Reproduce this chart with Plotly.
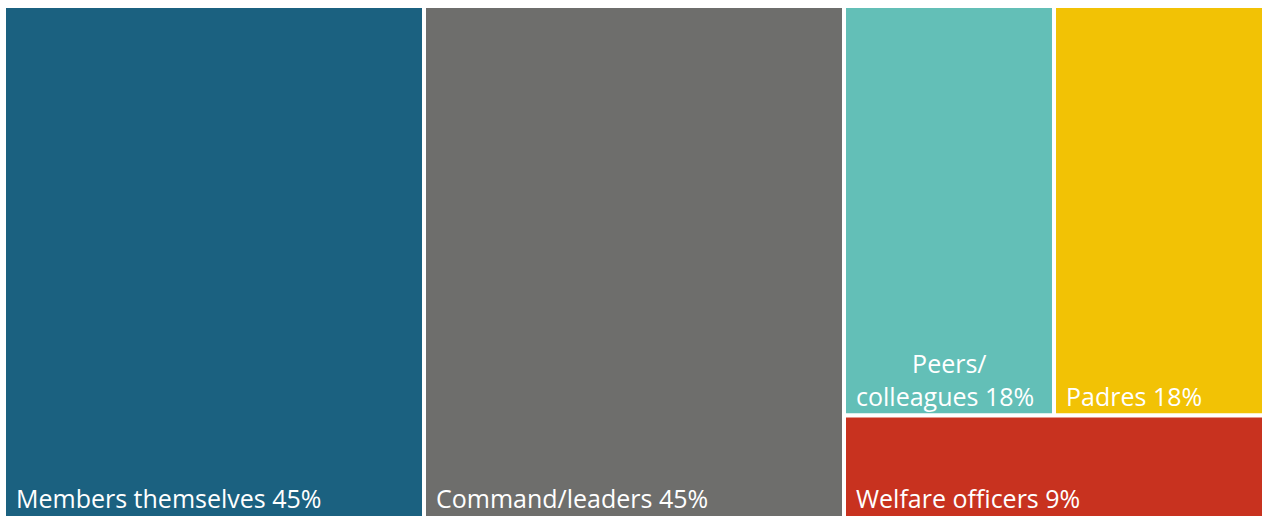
import plotly.graph_objects as go

labels = ["Members themselves", "Command/leaders", "Peers/colleagues", "Padres", "Welfare officers"]
display_text = [
    "\u00a0\u200aMembers themselves 45%",
    "\u00a0\u200aCommand/leaders 45%",
    "\u00a0\u200a" + "\u00a0" * 8 + "\u2009Peers/<br>\u00a0\u200acolleagues 18%",
    "\u00a0\u200aPadres 18%",
    "\u00a0\u200aWelfare officers 9%",
]
values = [45, 45, 18, 18, 9]
colors = ["#1B6180", "#6E6E6C", "#63BFB7", "#F2C205", "#C8321F"]

fig = go.Figure(go.Treemap(
    labels=labels,
    parents=[""] * len(labels),
    values=values,
    text=display_text,
    texttemplate="%{text}",
    textposition="bottom left",
    textfont=dict(family="Open Sans", size=25, color="white"),
    marker=dict(colors=colors, line=dict(color="white", width=4),
                pad=dict(t=0, l=0, r=0, b=0)),
    pathbar=dict(visible=False),
    tiling=dict(packing="squarify", squarifyratio=1, pad=0),
    sort=True,
    hoverinfo="label+value",
    domain=dict(x=[0, 1], y=[0, 1]),
))

fig.update_layout(
    width=1264, height=518,
    margin=dict(l=4, r=0, t=6, b=0),
    paper_bgcolor="white",
    showlegend=False,
)

fig.write_html("out.html")
